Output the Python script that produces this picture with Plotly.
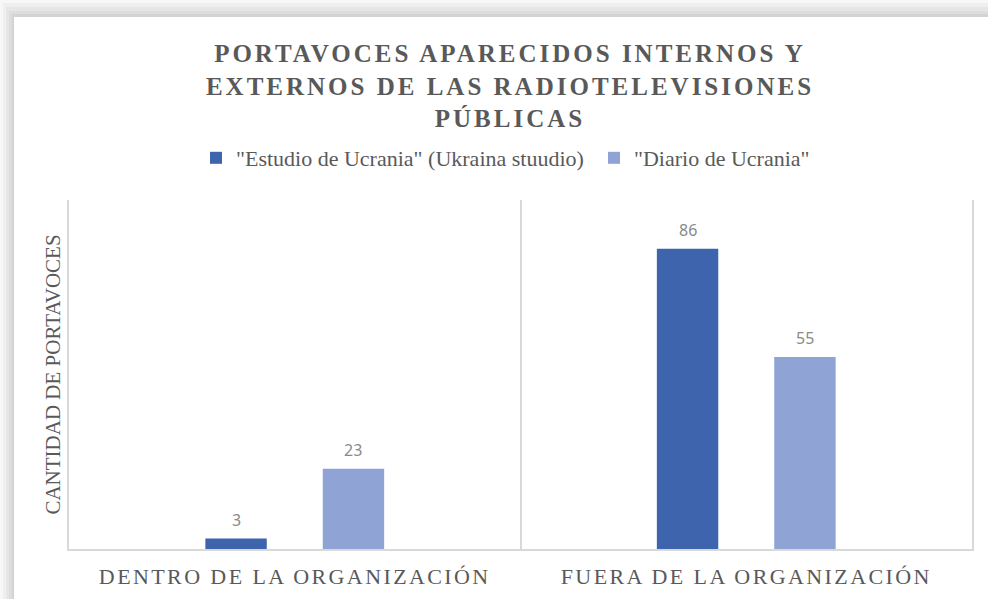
import plotly.graph_objects as go

# ---- data ----
categories = ["DENTRO DE LA ORGANIZACIÓN", "FUERA DE LA ORGANIZACIÓN"]
series_names = ['"Estudio de Ucrania" (Ukraina stuudio)', '"Diario de Ucrania"']
estudio_values = [3, 86]
diario_values = [23, 55]

title_text = "PORTAVOCES APARECIDOS INTERNOS Y<br>EXTERNOS DE LAS RADIOTELEVISIONES<br>PÚBLICAS"
y_title = "CANTIDAD DE PORTAVOCES"

# ---- styles ----
W, H = 988, 599
colors = ["#3D64AD", "#8FA3D4"]
bar_width = 0.136
bar_offsets = [-0.198, 0.062]
legend_x_px = [196, 594]
serif = "Liberation Serif, Times New Roman, serif"
sans = "Noto Sans, Liberation Sans, sans-serif"
text_gray = "#595959"
label_gray = "#8a8a8a"
grid_gray = "#d9d9d9"

M_L, M_R, M_T, M_B = 69, 16, 200, 50
PW, PH = W - M_L - M_R, H - M_T - M_B


def px_x(p):
    return (p - M_L) / PW


def px_y(p):
    return (H - M_B - p) / PH


fig = go.Figure()
series = [estudio_values, diario_values]
legend_ids = ["legend", "legend2"]
for name, vals, col, off, lg in zip(series_names, series, colors, bar_offsets, legend_ids):
    fig.add_trace(go.Bar(
        x=categories, y=vals, name=name,
        marker=dict(color=col, line=dict(width=0)),
        width=bar_width, offset=off, legend=lg,
        hoverinfo="skip",
    ))

annotations = []
for vals, off in zip(series, bar_offsets):
    for i, v in enumerate(vals):
        annotations.append(dict(
            x=i + off + bar_width / 2, y=v, xref="x", yref="y",
            text=str(v), showarrow=False, yanchor="middle", yshift=19,
            font=dict(family=sans, size=16, color=label_gray),
        ))

# frame with soft shadow (decoration)
shapes = []
shadow_steps = [(0, 0, "#f7f7f7"), (3, 3, "#efefef"), (6, 7, "#e6e6e6"),
                (9, 11, "#dddddd"), (12, 14, "#d3d3d3")]
for (dx, dy, c) in shadow_steps:
    shapes.append(dict(type="rect", xref="paper", yref="paper",
                       x0=px_x(dx), x1=px_x(W + 5), y0=px_y(H + 20), y1=px_y(dy),
                       fillcolor=c, line=dict(width=0), layer="below"))
shapes.append(dict(type="rect", xref="paper", yref="paper",
                   x0=px_x(14), x1=px_x(W + 5), y0=px_y(H + 20), y1=px_y(17),
                   fillcolor="white", line=dict(width=0), layer="below"))

legend_common = dict(orientation="h", xref="container", yref="container",
                     xanchor="left", y=1 - 158 / H, yanchor="middle",
                     font=dict(family=serif, size=22, color=text_gray),
                     bgcolor="rgba(0,0,0,0)", itemwidth=30)

fig.update_layout(
    width=W, height=H,
    margin=dict(l=M_L, r=M_R, t=M_T, b=M_B, autoexpand=False),
    paper_bgcolor="white", plot_bgcolor="rgba(0,0,0,0)",
    title=dict(text=title_text, x=510 / W, xanchor="center", xref="container",
               y=1 - 62 / H, yanchor="top", yref="container",
               font=dict(family=serif, size=25, color=text_gray, weight="bold")),
    legend=dict(x=legend_x_px[0] / W, **legend_common),
    legend2=dict(x=legend_x_px[1] / W, **legend_common),
    xaxis=dict(type="category", categoryorder="array", categoryarray=categories,
               range=[-0.5, 1.5], tickson="boundaries", showgrid=True,
               gridcolor=grid_gray, gridwidth=1.5, ticks="",
               showline=True, linecolor=grid_gray, linewidth=1.5,
               tickfont=dict(family=serif, size=22, color=text_gray),
               ticklabelstandoff=7, zeroline=False, automargin=False),
    yaxis=dict(range=[0, 100], showgrid=False, showticklabels=False, ticks="",
               showline=True, mirror=True, linecolor=grid_gray, linewidth=1.5,
               zeroline=False, automargin=False,
               title=dict(text=y_title, standoff=1,
                          font=dict(family=serif, size=21, color=text_gray))),
    annotations=annotations,
    shapes=shapes,
    showlegend=True,
)

post = """
document.body.style.margin='0';
document.body.style.overflow='hidden';
var gd = document.getElementById('{plot_id}');
gd.querySelectorAll('.gtitle').forEach(function(t){t.style.letterSpacing='3px';});
gd.querySelectorAll('.xtick text').forEach(function(t){t.style.letterSpacing='2.4px';});
"""

fig.write_html("out.html", post_script=post, config={"displayModeBar": False})
